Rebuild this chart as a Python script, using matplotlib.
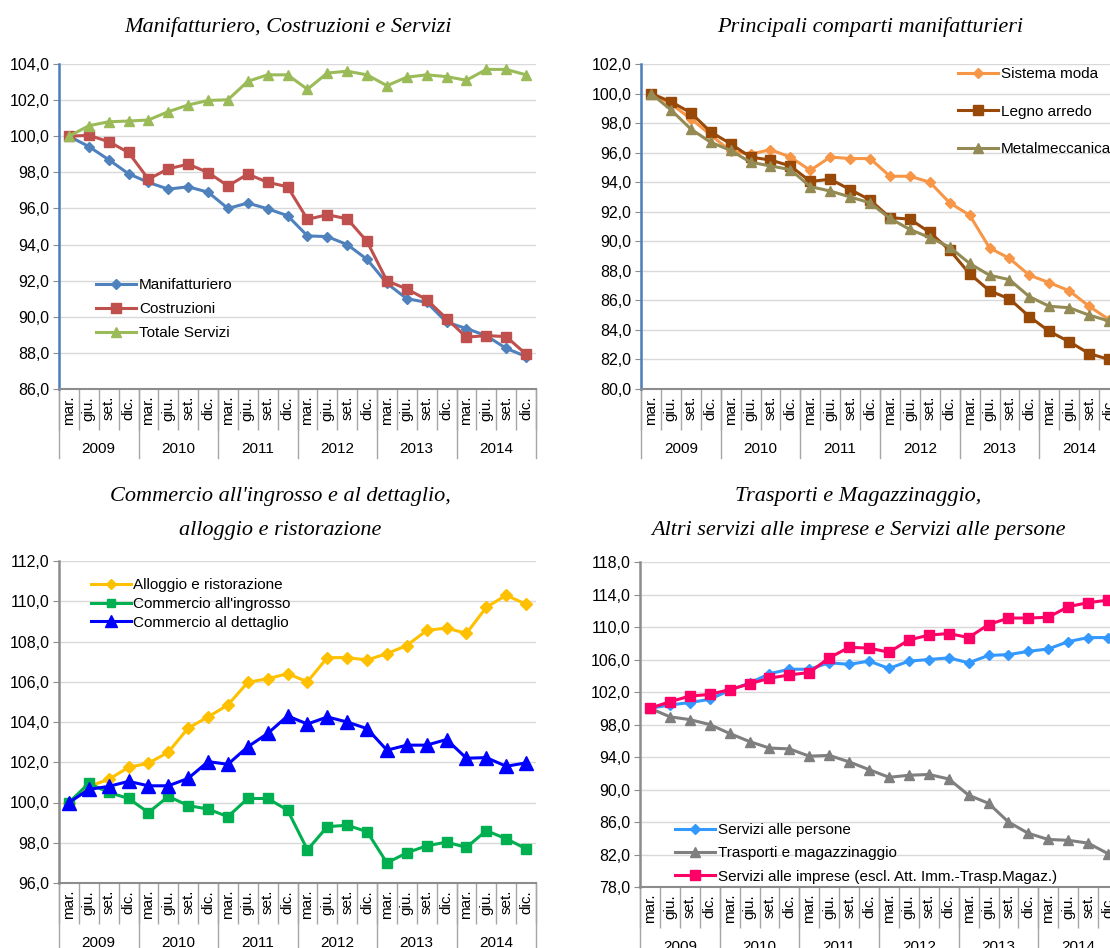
#! /usr/bin/env python3

'''
Quattro pannelli con gli indici trimestrali 2009-2014 (mar. 2009 = 100)
'''

import numpy as np
import matplotlib
matplotlib.use('Agg')
import matplotlib.pyplot as plt
from matplotlib.ticker import FuncFormatter

W, H = 1110, 948

quarters = ['mar.', 'giu.', 'set.', 'dic.'] * 6
years = ['2009', '2010', '2011', '2012', '2013', '2014']

# pannello 1
manifatturiero = [100.0, 99.43, 98.7, 97.92, 97.44, 97.07, 97.2, 96.9, 96.0, 96.3, 95.98, 95.6,
                  94.48, 94.44, 94.0, 93.18, 91.85, 91.0, 90.8, 89.7, 89.35, 88.95, 88.25, 87.8]
costruzioni = [100.0, 100.05, 99.7, 99.1, 97.62, 98.2, 98.45, 97.99, 97.25, 97.9, 97.45, 97.2,
               95.4, 95.65, 95.43, 94.17, 91.99, 91.54, 90.95, 89.9, 88.87, 88.96, 88.9, 87.93]
totale_servizi = [100.0, 100.58, 100.8, 100.84, 100.9, 101.36, 101.73, 101.98, 102.02, 103.04, 103.4, 103.4,
                  102.6, 103.5, 103.6, 103.4, 102.8, 103.27, 103.4, 103.3, 103.1, 103.7, 103.7, 103.4]

# pannello 2
sistema_moda = [100.0, 99.3, 98.3, 97.2, 96.1, 95.9, 96.2, 95.7, 94.8, 95.7, 95.6, 95.6,
                94.4, 94.4, 94.0, 92.6, 91.77, 89.55, 88.84, 87.7, 87.2, 86.65, 85.6, 84.7]
legno_arredo = [100.0, 99.45, 98.7, 97.4, 96.6, 95.7, 95.5, 95.1, 94.05, 94.2, 93.5, 92.8,
                91.6, 91.5, 90.6, 89.4, 87.8, 86.65, 86.1, 84.9, 83.9, 83.2, 82.4, 82.0]
metalmeccanica = [100.0, 98.9, 97.6, 96.7, 96.15, 95.35, 95.1, 94.85, 93.7, 93.4, 93.0, 92.6,
                  91.55, 90.8, 90.25, 89.6, 88.5, 87.7, 87.4, 86.25, 85.6, 85.5, 85.0, 84.6]

# pannello 3
alloggio = [100.0, 100.8, 101.15, 101.75, 101.95, 102.5, 103.7, 104.25, 104.85, 105.97, 106.15, 106.4,
            106.0, 107.2, 107.2, 107.08, 107.4, 107.8, 108.55, 108.67, 108.4, 109.7, 110.3, 109.85]
ingrosso = [100.0, 100.95, 100.5, 100.2, 99.5, 100.3, 99.85, 99.67, 99.3, 100.2, 100.2, 99.62,
            97.65, 98.8, 98.87, 98.55, 97.0, 97.5, 97.85, 98.03, 97.77, 98.6, 98.2, 97.7]
dettaglio = [100.0, 100.65, 100.8, 101.05, 100.83, 100.83, 101.2, 102.03, 101.9, 102.77, 103.43, 104.3,
             103.9, 104.25, 104.0, 103.67, 102.6, 102.85, 102.85, 103.13, 102.2, 102.23, 101.8, 101.97]

# pannello 4
servizi_persone = [100.0, 100.4, 100.7, 101.1, 102.2, 103.1, 104.25, 104.8, 104.8, 105.6, 105.4, 105.8,
                   104.9, 105.8, 106.0, 106.2, 105.6, 106.5, 106.6, 107.0, 107.3, 108.2, 108.7, 108.7]
trasporti = [100.0, 98.95, 98.6, 98.0, 96.9, 95.9, 95.1, 95.0, 94.1, 94.2, 93.4, 92.45,
             91.5, 91.75, 91.85, 91.3, 89.3, 88.3, 86.0, 84.6, 83.85, 83.75, 83.4, 82.1]
servizi_imprese = [100.0, 100.8, 101.5, 101.7, 102.3, 103.0, 103.7, 104.1, 104.4, 106.2, 107.5, 107.4,
                   106.9, 108.4, 109.0, 109.2, 108.7, 110.3, 111.1, 111.1, 111.2, 112.5, 113.0, 113.3]

plt.rcParams['font.family'] = ['Liberation Sans', 'DejaVu Sans']
plt.rcParams['font.size'] = 11

GRAY = '#8c8c8c'


def make_axes(fig, left, right, top, bottom):
    return fig.add_axes([left / W, 1 - bottom / H, (right - left) / W, (bottom - top) / H])


def style_axes(ax, ylim, step, spine_color):
    x = np.arange(len(quarters))
    ax.set_xlim(-0.5, len(quarters) - 0.5)
    ax.set_ylim(*ylim)
    ax.set_yticks(np.arange(ylim[0], ylim[1] + 0.01, step))
    ax.yaxis.set_major_formatter(FuncFormatter(lambda v, p: f'{v:.1f}'.replace('.', ',')))
    ax.grid(axis='y', color='#d9d9d9', lw=1)
    ax.set_axisbelow(True)
    for s in ['top', 'right']:
        ax.spines[s].set_visible(False)
    ax.spines['left'].set_color(spine_color)
    ax.spines['left'].set_linewidth(1.8)
    ax.spines['bottom'].set_color(GRAY)
    ax.spines['bottom'].set_linewidth(1.5)
    ax.tick_params(axis='y', length=4, color=GRAY, pad=3, labelsize=11.5)

    hpx = ax.get_position().height * H
    ax.set_xticks(np.arange(-0.5, len(quarters), 1))
    ax.set_xticklabels([])
    ax.tick_params(axis='x', which='major', length=41 * 0.72, color='#a6a6a6', width=1)
    ax.set_xticks(x, minor=True)
    ax.set_xticklabels(quarters, minor=True, rotation=90)
    ax.tick_params(axis='x', which='minor', length=0, pad=5, labelsize=11)

    trans = ax.get_xaxis_transform()
    for i in range(len(years) + 1):
        xs = i * 4 - 0.5
        ax.plot([xs, xs], [0, -69 / hpx], color='#a6a6a6', lw=1, transform=trans, clip_on=False)
    for i, yr in enumerate(years):
        ax.text(i * 4 + 1.5, -60 / hpx, yr, transform=trans, ha='center', va='center', fontsize=11)


fig = plt.figure(figsize=(W / 100, H / 100), dpi=100)
x = np.arange(len(quarters))
title_kw = dict(family='Liberation Serif', style='italic', fontsize=16, ha='center', va='center')

# --- pannello 1
ax1 = make_axes(fig, 59, 536, 64, 389)
style_axes(ax1, (86, 104), 2, '#4a7ebb')
ax1.plot(x, manifatturiero, color='#4f81bd', lw=2.2, marker='D', ms=5, label='Manifatturiero')
ax1.plot(x, costruzioni, color='#c0504d', lw=2.2, marker='s', ms=7, label='Costruzioni')
ax1.plot(x, totale_servizi, color='#9bbb59', lw=2.2, marker='^', ms=7.5, label='Totale Servizi')
ax1.legend(loc='upper left', bbox_to_anchor=(0.065, 0.36), frameon=False, handlelength=2.6,
           handletextpad=0.2, labelspacing=0.65, borderaxespad=0)
fig.text(288 / W, 1 - 27 / H, 'Manifatturiero, Costruzioni e Servizi', **title_kw)

# --- pannello 2
ax2 = make_axes(fig, 641, 1119, 64, 389)
style_axes(ax2, (80, 102), 2, '#4a7ebb')
ax2.plot(x, sistema_moda, color='#f79646', lw=2.2, marker='D', ms=5, label='Sistema moda')
ax2.plot(x, legno_arredo, color='#984807', lw=2.2, marker='s', ms=7, label='Legno arredo')
ax2.plot(x, metalmeccanica, color='#948a54', lw=2.2, marker='^', ms=7.5, label='Metalmeccanica')
ax2.legend(loc='upper left', bbox_to_anchor=(0.65, 1.01), frameon=False, handlelength=2.6,
           handletextpad=0.2, labelspacing=1.55, borderaxespad=0)
fig.text(870 / W, 1 - 27 / H, 'Principali comparti manifatturieri', **title_kw)

# --- pannello 3
ax3 = make_axes(fig, 59, 536, 561, 883)
style_axes(ax3, (96, 112), 2, GRAY)
ax3.plot(x, alloggio, color='#ffc000', lw=2.2, marker='D', ms=6, label='Alloggio e ristorazione')
ax3.plot(x, ingrosso, color='#00b050', lw=2.2, marker='s', ms=6.5, label="Commercio all'ingrosso")
ax3.plot(x, dettaglio, color='#0000ff', lw=2.2, marker='^', ms=10, label='Commercio al dettaglio')
ax3.legend(loc='upper left', bbox_to_anchor=(0.055, 0.965), frameon=False, handlelength=2.6,
           handletextpad=0.15, labelspacing=0.3, borderaxespad=0, markerscale=0.8)
fig.text(280 / W, 1 - 497 / H, "Commercio all'ingrosso e al dettaglio,", **title_kw)
fig.text(280 / W, 1 - 530 / H, 'alloggio e ristorazione', **title_kw)

# --- pannello 4
ax4 = make_axes(fig, 640, 1118, 562, 887)
style_axes(ax4, (78, 118), 4, GRAY)
ax4.plot(x, servizi_persone, color='#3399ff', lw=2.2, marker='D', ms=5.5, label='Servizi alle persone')
ax4.plot(x, trasporti, color='#7f7f7f', lw=2.2, marker='^', ms=7, label='Trasporti e magazzinaggio')
ax4.plot(x, servizi_imprese, color='#ff0066', lw=2.2, marker='s', ms=7.5,
         label='Servizi alle imprese (escl. Att. Imm.-Trasp.Magaz.)')
ax4.legend(loc='upper left', bbox_to_anchor=(0.06, 0.215), frameon=False, handlelength=2.6,
           handletextpad=0.2, labelspacing=0.6, borderaxespad=0)
fig.text(858 / W, 1 - 497 / H, 'Trasporti e Magazzinaggio,', **title_kw)
fig.text(858 / W, 1 - 530 / H, 'Altri servizi alle imprese e Servizi alle persone', **title_kw)

fig.savefig('out.png', dpi=100)
